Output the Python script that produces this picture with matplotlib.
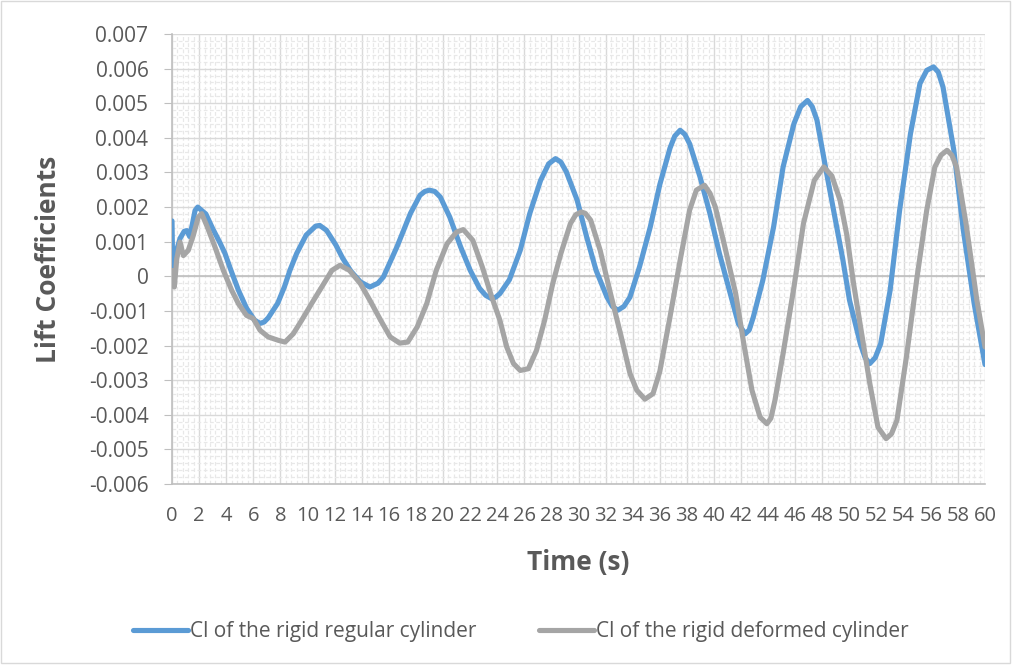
import numpy as np
import matplotlib
matplotlib.use("Agg")
import matplotlib.pyplot as plt
from matplotlib.patches import Rectangle
from matplotlib.ticker import MultipleLocator, FuncFormatter

plt.rcParams['font.family'] = ['Open Sans', 'DejaVu Sans']
plt.rcParams['axes.unicode_minus'] = False

# Cl of the rigid regular cylinder (values in units of 1e-3)
t_regular = [0.0, 0.05, 0.1, 0.3, 0.6, 0.9, 1.1, 1.3, 1.5, 1.7, 1.9, 2.2, 2.5,
             3.0, 3.5, 3.9, 4.4, 4.9, 5.5, 6.1, 6.5, 6.8, 7.1, 7.8, 8.3, 8.7,
             9.2, 9.9, 10.6, 10.9, 11.4, 12.1, 12.6, 13.2, 13.9, 14.6, 15.2,
             15.6, 16.6, 17.6, 18.3, 18.65, 19.0, 19.4, 19.8, 20.5, 21.3, 22.0,
             22.7, 23.15, 23.6, 23.9, 24.2, 24.9, 25.7, 26.4, 27.2, 27.8, 28.3,
             28.7, 29.1, 29.9, 30.6, 31.3, 32.1, 32.5, 32.9, 33.35, 33.8, 34.5,
             35.3, 36.0, 36.75, 37.1, 37.5, 37.85, 38.2, 38.97, 39.7, 40.4,
             41.2, 41.8, 42.3, 42.6, 42.9, 43.6, 44.4, 45.1, 45.9, 46.4, 46.9,
             47.25, 47.6, 48.3, 48.9, 49.5, 50.0, 50.8, 51.15, 51.5, 51.9,
             52.3, 53.0, 53.7, 54.5, 55.2, 55.7, 56.2, 56.55, 56.9, 57.7,
             58.4, 59.2, 60.0]
cl_regular = [1.6, 0.3, 0.2, 0.7, 1.1, 1.3, 1.32, 1.15, 1.5, 1.9, 2.0, 1.9, 1.8,
              1.38, 1.0, 0.67, 0.12, -0.4, -0.92, -1.27, -1.36, -1.32, -1.2,
              -0.78, -0.3, 0.17, 0.66, 1.19, 1.45, 1.47, 1.33, 0.9, 0.52, 0.15,
              -0.16, -0.31, -0.2, -0.02, 0.85, 1.82, 2.34, 2.45, 2.49, 2.45,
              2.29, 1.71, 0.85, 0.18, -0.35, -0.55, -0.65, -0.6, -0.5, -0.1,
              0.75, 1.81, 2.77, 3.25, 3.4, 3.3, 3.02, 2.2, 1.14, 0.17, -0.6,
              -0.87, -0.98, -0.87, -0.6, 0.27, 1.43, 2.65, 3.7, 4.05, 4.22,
              4.1, 3.83, 2.87, 1.81, 0.66, -0.5, -1.37, -1.66, -1.55, -1.18,
              -0.12, 1.43, 3.16, 4.41, 4.9, 5.08, 4.9, 4.51, 3.0, 1.75, 0.5,
              -0.69, -1.95, -2.35, -2.52, -2.35, -1.95, -0.4, 1.91, 4.12, 5.57,
              5.95, 6.05, 5.9, 5.47, 3.64, 1.33, -0.79, -2.55]

# Cl of the rigid deformed cylinder (values in units of 1e-3)
t_deformed = [0.0, 0.1, 0.17, 0.35, 0.59, 0.84, 1.2, 1.57, 1.94, 2.19, 2.56,
              3.17, 3.79, 4.4, 4.9, 5.5, 6.0, 6.5, 7.1, 7.85, 8.34, 8.95,
              9.57, 10.3, 11.05, 11.8, 12.4, 13.1, 13.9, 14.6, 15.4, 16.1,
              16.8, 17.4, 18.1, 18.8, 19.5, 20.3, 21.0, 21.5, 22.2, 22.9,
              23.6, 24.2, 24.7, 25.2, 25.7, 26.3, 26.9, 27.5, 28.1, 28.7,
              29.4, 29.8, 30.2, 30.5, 30.9, 31.6, 32.3, 33.1, 33.8, 34.3,
              34.9, 35.5, 36.0, 36.75, 37.5, 38.2, 38.7, 39.3, 39.7, 40.1,
              40.8, 41.6, 42.2, 42.8, 43.4, 43.9, 44.2, 44.5, 45.1, 45.9,
              46.6, 47.4, 48.1, 48.7, 49.3, 49.8, 50.3, 50.9, 51.5, 52.1,
              52.7, 53.1, 53.5, 54.2, 55.0, 55.7, 56.3, 56.75, 57.2, 57.55,
              57.9, 58.6, 59.4, 60.0]
cl_deformed = [0.17, -0.2, -0.31, 0.5, 0.99, 0.6, 0.75, 1.18, 1.71, 1.81, 1.47,
               0.85, 0.17, -0.4, -0.79, -1.13, -1.22, -1.56, -1.75, -1.85,
               -1.9, -1.66, -1.27, -0.79, -0.31, 0.17, 0.32, 0.17, -0.21,
               -0.69, -1.27, -1.75, -1.93, -1.9, -1.46, -0.79, 0.17, 0.94,
               1.28, 1.35, 1.04, 0.27, -0.6, -1.27, -2.04, -2.52, -2.72,
               -2.67, -2.14, -1.27, -0.21, 0.66, 1.52, 1.78, 1.86, 1.82, 1.62,
               0.75, -0.4, -1.66, -2.81, -3.29, -3.55, -3.39, -2.75, -1.18,
               0.46, 1.91, 2.49, 2.63, 2.4, 2.0, 0.85, -0.5, -1.95, -3.29,
               -4.07, -4.26, -4.1, -3.58, -2.23, -0.31, 1.52, 2.77, 3.16, 2.9,
               2.2, 1.2, -0.21, -1.66, -3.1, -4.36, -4.69, -4.55, -4.16, -2.33,
               0.02, 1.91, 3.16, 3.5, 3.64, 3.5, 3.16, 1.52, -0.69, -2.04]

text_color = '#595959'

fig = plt.figure(figsize=(10.13, 6.66), dpi=100)
ax = fig.add_axes([172 / 1013, 182 / 666, 813 / 1013, 450 / 666])

ax.plot(t_regular, np.array(cl_regular) * 1e-3, color='#5B9BD5', lw=3.7,
        solid_capstyle='round', solid_joinstyle='round',
        label='Cl of the rigid regular cylinder', zorder=3)
ax.plot(t_deformed, np.array(cl_deformed) * 1e-3, color='#A5A5A5', lw=3.7,
        solid_capstyle='round', solid_joinstyle='round',
        label='Cl of the rigid deformed cylinder', zorder=3)

ax.set_xlim(0, 60)
ax.set_ylim(-0.006, 0.007)
ax.xaxis.set_major_locator(MultipleLocator(2))
ax.xaxis.set_minor_locator(MultipleLocator(0.4))
ax.yaxis.set_major_locator(MultipleLocator(0.001))
ax.yaxis.set_minor_locator(MultipleLocator(0.0002))
ax.yaxis.set_major_formatter(FuncFormatter(lambda v, p: '0' if abs(v) < 1e-9 else f'{v:.3f}'))

# gridlines, Excel style
ax.grid(which='major', color='#d9d9d9', lw=1.0, zorder=1)
ax.grid(which='minor', color='#e8e8e8', lw=0.9, ls=(0, (3, 2)), zorder=0)
ax.axhline(0, color='#bfbfbf', lw=1.2, zorder=2)
ax.set_axisbelow(True)

for side in ['top', 'right']:
    ax.spines[side].set_visible(False)
for side in ['left', 'bottom']:
    ax.spines[side].set_color('#bfbfbf')
    ax.spines[side].set_linewidth(1.2)

ax.tick_params(axis='y', which='major', length=6, color='#bfbfbf', pad=11,
               labelsize=15, labelcolor=text_color)
ax.tick_params(axis='x', which='major', length=0, pad=16,
               labelsize=14.5, labelcolor=text_color)
ax.tick_params(which='minor', length=0)

ax.set_xlabel('Time (s)', fontsize=19, fontweight='bold', color=text_color)
ax.xaxis.set_label_coords(0.5, -0.145)
ax.set_ylabel('Lift Coefficients', fontsize=19, fontweight='bold', color=text_color)
ax.yaxis.set_label_coords(-0.135, 0.5)

fig.legend(loc='center', bbox_to_anchor=(0.514, 1 - 632 / 666), ncol=2,
           frameon=False, fontsize=15, handlelength=2.65, handletextpad=0.1,
           columnspacing=3.0, labelcolor=text_color)

# chart border
fig.patches.append(Rectangle((0.001, 0.004), 0.996, 0.995, transform=fig.transFigure,
                             fill=False, edgecolor='#d9d9d9', lw=1))

fig.savefig('out.png', dpi=100)
